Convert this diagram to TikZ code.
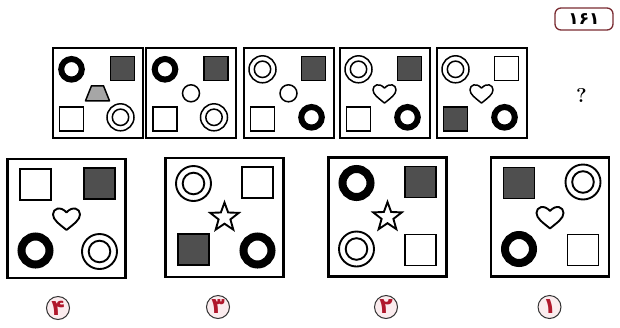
\documentclass[tikz,border=0pt]{standalone}
\usepackage{fontspec}
\newfontfamily\arabicfont[Script=Arabic]{DejaVu Sans}
\definecolor{sqdark}{HTML}{4F4F4F}
\definecolor{trapgray}{HTML}{A6A6A6}
\definecolor{labred}{HTML}{B0182C}
\definecolor{labfill}{HTML}{FBECEE}
\definecolor{badgeedge}{HTML}{7A2C32}
\newcommand\shWsq[2]{\draw[line width=\LW, fill=white] ({#1-\SQ},{#2-\SQ}) rectangle ({#1+\SQ},{#2+\SQ});}
\newcommand\shDsq[2]{\draw[line width=\LW, fill=sqdark] ({#1-\SQ},{#2-\SQ}) rectangle ({#1+\SQ},{#2+\SQ});}
\newcommand\shTring[2]{\draw[line width=\RW] ({#1},{#2}) circle[radius=\RR];}
\newcommand\shDring[2]{\draw[line width=\DW] ({#1},{#2}) circle[radius=\DO] ({#1},{#2}) circle[radius=\DI];}
\newcommand\shHeart[2]{\draw[line width=\DW, line join=round, shift={({#1},{#2})}, scale=\HS]
  (0,0.85) .. controls (-0.55,0.4) and (-1,0.1) .. (-1,-0.3)
  .. controls (-1,-0.75) and (-0.45,-0.95) .. (0,-0.45)
  .. controls (0.45,-0.95) and (1,-0.75) .. (1,-0.3)
  .. controls (1,0.1) and (0.55,0.4) .. (0,0.85) -- cycle;}
\newcommand\shStar[2]{\draw[line width=\DW, line join=miter, shift={({#1},{#2})}]
  (-90:\STo) -- (-54:\STi) -- (-18:\STo) -- (18:\STi) -- (54:\STo) -- (90:\STi)
  -- (126:\STo) -- (162:\STi) -- (198:\STo) -- (234:\STi) -- cycle;}
\newcommand\shCirc[2]{\draw[line width=\DW] ({#1},{#2}) circle[radius=8.5];}
\newcommand\shTrap[2]{\draw[line width=\LW, fill=trapgray, line join=round]
  ({#1-6},{#2-7.5}) -- ({#1+6},{#2-7.5}) -- ({#1+12},{#2+7.5}) -- ({#1-12},{#2+7.5}) -- cycle;}
\newcommand\cellbox[8]{%
  \node[draw, line width=\BW, minimum width=\BXW, minimum height=\BXH, inner sep=0pt] (#1) at (#2,#3) {};
  #4{#2+\TLx}{#3+\TLy}%
  #5{#2+\TRx}{#3+\TRy}%
  #6{#2}{#3}%
  #7{#2+\BLx}{#3+\BLy}%
  #8{#2+\BRx}{#3+\BRy}%
}
\tikzset{
  lab/.style={circle, draw=black!80, fill=labfill, line width=1pt, minimum size=23pt, inner sep=0pt,
    text=labred, font=\arabicfont\bfseries\fontsize{22}{22}\selectfont},
  badge/.style={draw=badgeedge, line width=1.3pt, rounded corners=6pt, minimum width=58pt,
    minimum height=22pt, inner sep=0pt, font=\arabicfont\bfseries\fontsize{17}{17}\selectfont}
}
\begin{document}
\begin{tikzpicture}[x=1pt,y=-1pt]
\useasboundingbox (0,0) rectangle (620,327);
\fill[white] (0,0) rectangle (620,327);
% top row
\def\SQ{12}\def\LW{1.5}\def\RR{10.3}\def\RW{6}\def\DO{13.5}\def\DI{8.2}\def\DW{1.5}\def\HS{11.5}
\def\STo{11}\def\STi{4.6}\def\BW{2pt}\def\BXW{90pt}\def\BXH{90pt}
\def\TLx{-26}\def\TLy{-24}\def\TRx{25}\def\TRy{-25}\def\BLx{-26}\def\BLy{25.5}\def\BRx{23}\def\BRy{24}
\cellbox{t1}{97.5}{93.3}{\shTring}{\shDsq}{\shTrap}{\shWsq}{\shDring}
\cellbox{t2}{191}{93.3}{\shTring}{\shDsq}{\shCirc}{\shWsq}{\shDring}
\cellbox{t3}{288.5}{93.3}{\shDring}{\shDsq}{\shCirc}{\shWsq}{\shTring}
\cellbox{t4}{384.5}{93.3}{\shDring}{\shDsq}{\shHeart}{\shWsq}{\shTring}
\cellbox{t5}{481.5}{93.3}{\shDring}{\shWsq}{\shHeart}{\shDsq}{\shTring}
\node[font=\bfseries\fontsize{20}{20}\selectfont] (q) at (581.5,95) {?};
\node[badge] (num) at (584,19) {۱۶۱};
% bottom row
\def\SQ{15.5}\def\LW{1.9}\def\RR{14}\def\RW{8}\def\DO{17.5}\def\DI{10.8}\def\DW{1.9}\def\HS{13.5}
\def\STo{15}\def\STi{6.2}\def\BW{2.2pt}\def\BXW{118pt}\def\BXH{119pt}
\def\TLx{-31}\def\TLy{-34}\def\TRx{33}\def\TRy{-35}\def\BLx{-31}\def\BLy{32}\def\BRx{33}\def\BRy{33}
\cellbox{a4}{66.5}{218.5}{\shWsq}{\shDsq}{\shHeart}{\shTring}{\shDring}
\cellbox{a3}{224.5}{217.5}{\shDring}{\shWsq}{\shStar}{\shDsq}{\shTring}
\cellbox{a2}{387.5}{217}{\shTring}{\shDsq}{\shStar}{\shDring}{\shWsq}
\cellbox{a1}{550}{217}{\shDsq}{\shDring}{\shHeart}{\shTring}{\shWsq}
\node[lab] (l4) at (58,308) {۴};
\node[lab] (l3) at (218,307) {۳};
\node[lab] (l2) at (386,307) {۲};
\node[lab] (l1) at (549.5,307) {۱};
\end{tikzpicture}
\end{document}
